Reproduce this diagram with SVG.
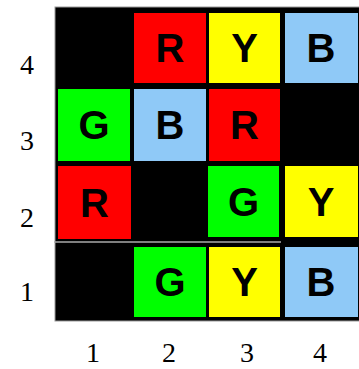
<svg xmlns="http://www.w3.org/2000/svg" width="359" height="369" viewBox="0 0 359 369">
<style>
.r{fill:#ff0000}.y{fill:#ffff00}.g{fill:#00ff00}.b{fill:#8fc9f7}
.L{font-family:"Liberation Sans",Arial,sans-serif;font-weight:bold;font-size:40px;text-anchor:middle;fill:#000}
.A{font-family:"Liberation Serif","Times New Roman",serif;font-size:28px;text-anchor:middle;fill:#000}
</style>
<rect width="359" height="369" fill="#fff"/>
<rect x="55" y="7" width="310" height="314" fill="#000" stroke="#999" stroke-width="1"/>
<line x1="54" y1="242" x2="281" y2="242" stroke="#aaa" stroke-width="1.5"/>
<g id="c24"><rect class="r" x="134" y="13" width="72" height="70"/><text class="L" x="170" y="62">R</text></g>
<g id="c34"><rect class="y" x="209" y="13" width="71" height="70"/><text class="L" x="244.5" y="62">Y</text></g>
<g id="c44"><rect class="b" x="285" y="13" width="73" height="70"/><text class="L" x="321" y="62">B</text></g>
<g id="c13"><rect class="g" x="58" y="89" width="72" height="72"/><text class="L" x="94" y="139">G</text></g>
<g id="c23"><rect class="b" x="134" y="89" width="72" height="72"/><text class="L" x="170" y="139">B</text></g>
<g id="c33"><rect class="r" x="209" y="89" width="71" height="72"/><text class="L" x="244.5" y="139">R</text></g>
<g id="c12"><rect class="r" x="58" y="166" width="73" height="73"/><text class="L" x="94.5" y="217">R</text></g>
<g id="c32"><rect class="g" x="208" y="166" width="71" height="71"/><text class="L" x="243.5" y="216">G</text></g>
<g id="c42"><rect class="y" x="285" y="166" width="73" height="71"/><text class="L" x="321" y="216">Y</text></g>
<g id="c21"><rect class="g" x="134" y="247" width="72" height="70"/><text class="L" x="170" y="296">G</text></g>
<g id="c31"><rect class="y" x="209" y="247" width="71" height="70"/><text class="L" x="244.5" y="296">Y</text></g>
<g id="c41"><rect class="b" x="285" y="247" width="73" height="70"/><text class="L" x="321" y="296">B</text></g>
<g id="rows">
<text class="A" x="27" y="74">4</text>
<text class="A" x="27" y="150">3</text>
<text class="A" x="27" y="227">2</text>
<text class="A" x="27" y="301">1</text>
</g>
<g id="cols">
<text class="A" x="93" y="362">1</text>
<text class="A" x="169" y="362">2</text>
<text class="A" x="247" y="362">3</text>
<text class="A" x="320" y="362">4</text>
</g>
<g id="connectors"/>
</svg>
